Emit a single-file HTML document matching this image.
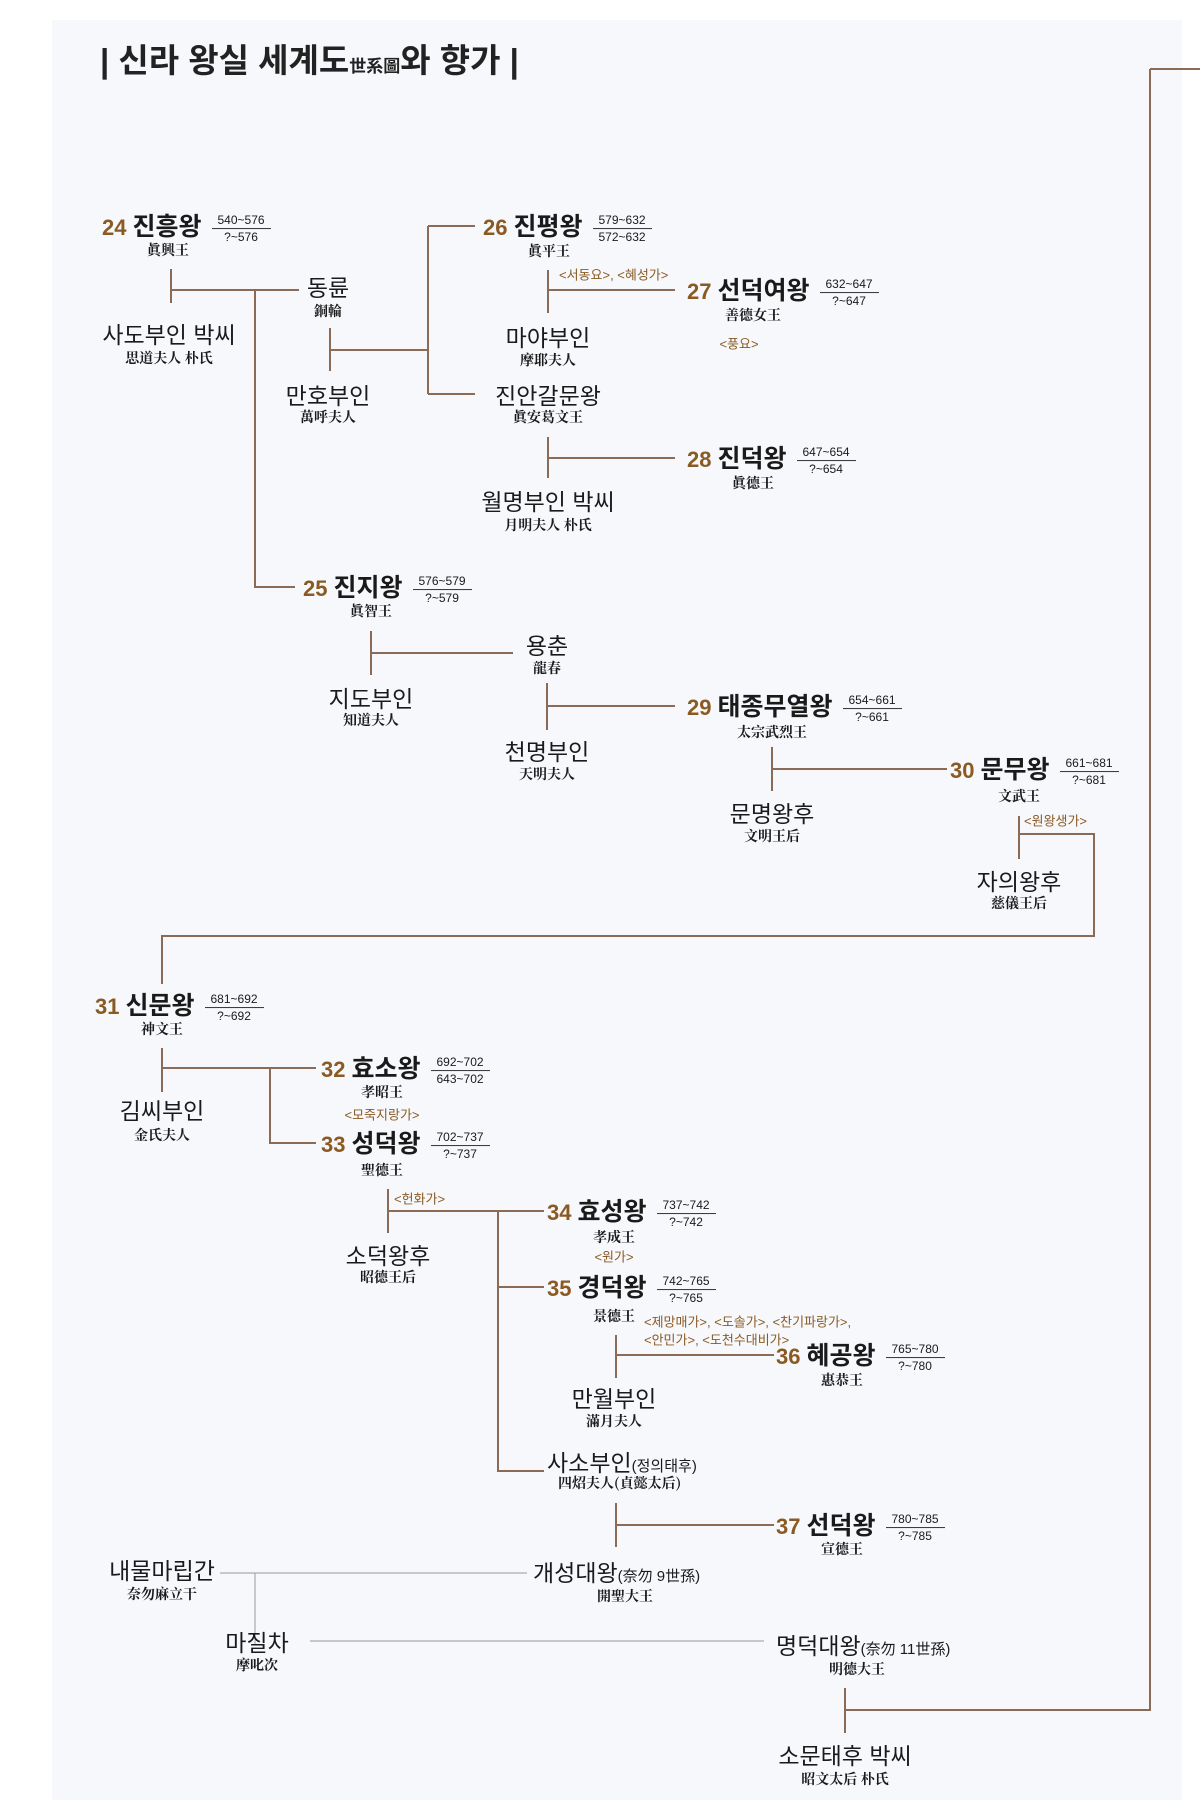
<!DOCTYPE html>
<html><head><meta charset="utf-8">
<style>
html,body{margin:0;padding:0}
body{width:1200px;height:1816px;position:relative;background:#fff;font-family:"Liberation Sans","Noto Sans CJK KR",sans-serif;color:#1a1a1a;overflow:hidden}
#bg{position:absolute;left:52px;top:20px;width:1130px;height:1780px;background:#f6f8fc}
svg{position:absolute;left:0;top:0}
.c{position:absolute;transform:translate(-50%,-50%);white-space:nowrap}
.l{position:absolute;transform:translateY(-50%);white-space:nowrap}
.k{font-size:25px;font-weight:bold}
.k .n{color:#8a5a22;font-size:22px;margin-right:6px}
.d{display:inline-block;vertical-align:middle;font-size:12px;font-weight:normal;text-align:center;margin-left:10px;line-height:16px}
.d span{display:block;border-bottom:1px solid #333;padding:0 6px}
.s{font-size:23px}
.h{font-size:14px;font-weight:bold;font-family:"Noto Serif CJK SC","Noto Sans CJK SC",serif}
.g{font-size:13px;color:#8a5a22}
.t{position:absolute;left:100px;top:34px;font-size:33px;font-weight:bold;color:#222}
.t .sm{font-size:17px}
</style></head><body>
<div id="bg"></div>
<svg width="1200" height="1816">
<g stroke="#8b6b55" stroke-width="2" fill="none">
<path d="M1150 69H1200M1150 69V1710H845"/>
<path d="M171 269V303M171 290H299M255 290V587H295"/>
<path d="M330 328V371M330 350H428M428 226V394M428 226H475M428 394H475"/>
<path d="M548 270V313M548 290H675"/>
<path d="M548 437V478M548 458H675"/>
<path d="M371 631V675M371 653H513"/>
<path d="M547 683V730M547 706H675"/>
<path d="M772 747V791M772 769H947"/>
<path d="M1019 816V859M1019 834H1094V936H162V984"/>
<path d="M162 1048V1092M162 1068H316M270 1068V1143H316"/>
<path d="M388 1189V1233M388 1211H544M498 1211V1471H544M498 1287H544"/>
<path d="M616 1335V1378M616 1355H774"/>
<path d="M616 1503V1547M616 1525H774"/>
<path d="M845 1688V1733"/>
</g>
<g stroke="#aaa" stroke-width="1.2" fill="none">
<path d="M220 1573H527M255 1573V1644M310 1641H764"/>
</g>
</svg>
<div class="t">| 신라 왕실 세계도<span class="sm">世系圖</span>와 향가 |</div>

<div class="l k" style="left:102px;top:226px"><span class="n">24</span>진흥왕<div class="d"><span>540~576</span>?~576</div></div>
<div class="c h" style="left:168px;top:250px">眞興王</div>
<div class="c s" style="left:328px;top:286px">동륜</div>
<div class="c h" style="left:328px;top:311px">銅輪</div>
<div class="c s" style="left:169px;top:333px">사도부인 박씨</div>
<div class="c h" style="left:169px;top:358px">思道夫人 朴氏</div>
<div class="c s" style="left:328px;top:394px">만호부인</div>
<div class="c h" style="left:328px;top:417px">萬呼夫人</div>

<div class="l k" style="left:483px;top:226px"><span class="n">26</span>진평왕<div class="d"><span>579~632</span>572~632</div></div>
<div class="c h" style="left:549px;top:251px">眞平王</div>
<div class="l g" style="left:559px;top:274px">&lt;서동요&gt;, &lt;혜성가&gt;</div>
<div class="l k" style="left:687px;top:290px"><span class="n">27</span>선덕여왕<div class="d"><span>632~647</span>?~647</div></div>
<div class="c h" style="left:753px;top:315px">善德女王</div>
<div class="c g" style="left:739px;top:343px">&lt;풍요&gt;</div>
<div class="c s" style="left:548px;top:336px">마야부인</div>
<div class="c h" style="left:548px;top:360px">摩耶夫人</div>
<div class="c s" style="left:548px;top:394px">진안갈문왕</div>
<div class="c h" style="left:548px;top:417px">眞安葛文王</div>
<div class="l k" style="left:687px;top:458px"><span class="n">28</span>진덕왕<div class="d"><span>647~654</span>?~654</div></div>
<div class="c h" style="left:753px;top:483px">眞德王</div>
<div class="c s" style="left:548px;top:500px">월명부인 박씨</div>
<div class="c h" style="left:548px;top:525px">月明夫人 朴氏</div>

<div class="l k" style="left:303px;top:587px"><span class="n">25</span>진지왕<div class="d"><span>576~579</span>?~579</div></div>
<div class="c h" style="left:371px;top:611px">眞智王</div>
<div class="c s" style="left:547px;top:644px">용춘</div>
<div class="c h" style="left:547px;top:668px">龍春</div>
<div class="c s" style="left:371px;top:697px">지도부인</div>
<div class="c h" style="left:371px;top:720px">知道夫人</div>
<div class="l k" style="left:687px;top:706px"><span class="n">29</span>태종무열왕<div class="d"><span>654~661</span>?~661</div></div>
<div class="c h" style="left:772px;top:732px">太宗武烈王</div>
<div class="c s" style="left:547px;top:750px">천명부인</div>
<div class="c h" style="left:547px;top:774px">天明夫人</div>
<div class="l k" style="left:950px;top:769px"><span class="n">30</span>문무왕<div class="d"><span>661~681</span>?~681</div></div>
<div class="c h" style="left:1019px;top:796px">文武王</div>
<div class="c s" style="left:772px;top:812px">문명왕후</div>
<div class="c h" style="left:772px;top:836px">文明王后</div>
<div class="l g" style="left:1024px;top:820px">&lt;원왕생가&gt;</div>
<div class="c s" style="left:1019px;top:880px">자의왕후</div>
<div class="c h" style="left:1019px;top:903px">慈儀王后</div>

<div class="l k" style="left:95px;top:1005px"><span class="n">31</span>신문왕<div class="d"><span>681~692</span>?~692</div></div>
<div class="c h" style="left:162px;top:1029px">神文王</div>
<div class="l k" style="left:321px;top:1068px"><span class="n">32</span>효소왕<div class="d"><span>692~702</span>643~702</div></div>
<div class="c h" style="left:382px;top:1092px">孝昭王</div>
<div class="c g" style="left:382px;top:1114px">&lt;모죽지랑가&gt;</div>
<div class="c s" style="left:162px;top:1109px">김씨부인</div>
<div class="c h" style="left:162px;top:1135px">金氏夫人</div>
<div class="l k" style="left:321px;top:1143px"><span class="n">33</span>성덕왕<div class="d"><span>702~737</span>?~737</div></div>
<div class="c h" style="left:382px;top:1170px">聖德王</div>
<div class="l g" style="left:394px;top:1198px">&lt;헌화가&gt;</div>
<div class="l k" style="left:547px;top:1211px"><span class="n">34</span>효성왕<div class="d"><span>737~742</span>?~742</div></div>
<div class="c h" style="left:614px;top:1237px">孝成王</div>
<div class="c g" style="left:614px;top:1256px">&lt;원가&gt;</div>
<div class="c s" style="left:388px;top:1254px">소덕왕후</div>
<div class="c h" style="left:388px;top:1277px">昭德王后</div>
<div class="l k" style="left:547px;top:1287px"><span class="n">35</span>경덕왕<div class="d"><span>742~765</span>?~765</div></div>
<div class="c h" style="left:614px;top:1316px">景德王</div>
<div class="l g" style="left:644px;top:1321px">&lt;제망매가&gt;, &lt;도솔가&gt;, &lt;찬기파랑가&gt;,</div>
<div class="l g" style="left:644px;top:1339px">&lt;안민가&gt;, &lt;도천수대비가&gt;</div>
<div class="l k" style="left:776px;top:1355px"><span class="n">36</span>혜공왕<div class="d"><span>765~780</span>?~780</div></div>
<div class="c h" style="left:842px;top:1380px">惠恭王</div>
<div class="c s" style="left:614px;top:1397px">만월부인</div>
<div class="c h" style="left:614px;top:1421px">滿月夫人</div>
<div class="l s" style="left:547px;top:1461px">사소부인<span style="font-size:15px">(정의태후)</span></div>
<div class="l h" style="left:558px;top:1483px">四炤夫人(貞懿太后)</div>
<div class="l k" style="left:776px;top:1525px"><span class="n">37</span>선덕왕<div class="d"><span>780~785</span>?~785</div></div>
<div class="c h" style="left:842px;top:1549px">宣德王</div>
<div class="l s" style="left:533px;top:1571px">개성대왕<span style="font-size:15px">(奈勿 9世孫)</span></div>
<div class="c h" style="left:625px;top:1596px">開聖大王</div>
<div class="c s" style="left:162px;top:1569px">내물마립간</div>
<div class="c h" style="left:162px;top:1594px">奈勿麻立干</div>
<div class="c s" style="left:257px;top:1641px">마질차</div>
<div class="c h" style="left:257px;top:1665px">摩叱次</div>
<div class="l s" style="left:776px;top:1644px">명덕대왕<span style="font-size:15px">(奈勿 11世孫)</span></div>
<div class="c h" style="left:857px;top:1669px">明德大王</div>
<div class="c s" style="left:845px;top:1754px">소문태후 박씨</div>
<div class="c h" style="left:845px;top:1779px">昭文太后 朴氏</div>
</body></html>
